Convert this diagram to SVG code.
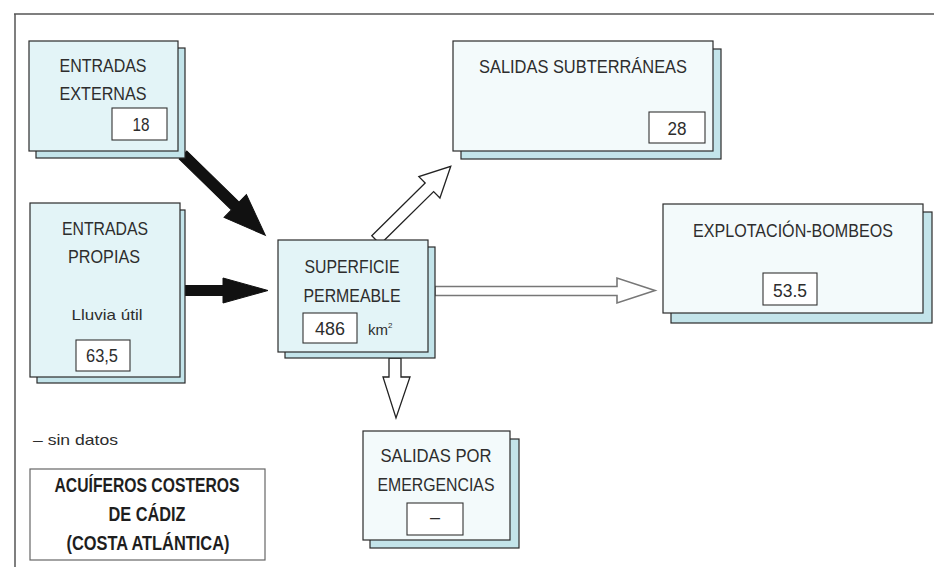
<svg xmlns="http://www.w3.org/2000/svg" width="934" height="567" viewBox="0 0 934 567">
<style>
.bg{fill:#ffffff}
.frame{stroke:#555;stroke-width:1.5;fill:none}
.shadow{fill:#c3e4ea;stroke:#2b2b2b;stroke-width:1.2}
.boxA{fill:#e3f4f7;stroke:#2b2b2b;stroke-width:1.2}
.boxB{fill:#f3fafb;stroke:#2b2b2b;stroke-width:1.2}
.val{fill:#ffffff;stroke:#333;stroke-width:1.1}
text{font-family:"Liberation Sans",Arial,sans-serif;fill:#2d2d2d;text-anchor:middle}
.t{font-size:18px}
.s{font-size:15px}
.n{font-size:18px}
.leg{font-size:20px;font-weight:bold;fill:#1e1e1e}
.solid{fill:#111;stroke:#111;stroke-width:1}
.hollow{fill:#fff;stroke:#222;stroke-width:1.3;stroke-linejoin:miter}
.hollowg{fill:#fff;stroke:#777;stroke-width:1.6}
</style>
<rect class="bg" x="0" y="0" width="934" height="567"/>
<path class="frame" d="M14,14 H934 M15,14 V567"/>

<g id="connectors">
  <polygon class="solid" transform="translate(183,155) rotate(44.3)" points="0,-5.5 73,-5.5 73,-16 115,0 73,16 73,5.5 0,5.5"/>
  <polygon class="solid" points="185,285.5 223,285.5 223,278 268,290.5 223,303 223,295.5 185,295.5"/>
  <polygon class="hollow" transform="translate(376,240) rotate(-44.6)" points="0,-6 75,-6 75,-15 105,0 75,15 75,6 0,6"/>
  <polygon class="hollowg" points="435,286.5 617,286.5 617,278 655,290.5 617,303 617,295.5 435,295.5"/>
  <polygon class="hollow" points="389,358 389,377 383,377 396,418 410,377 401,377 401,358"/>
</g>

<g id="entradas-externas">
  <rect class="shadow" x="36" y="48" width="149" height="110"/>
  <rect class="boxA" x="29" y="41" width="149" height="110"/>
  <text class="t" x="103" y="72" textLength="87" lengthAdjust="spacingAndGlyphs">ENTRADAS</text>
  <text class="t" x="103" y="100" textLength="87" lengthAdjust="spacingAndGlyphs">EXTERNAS</text>
  <rect class="val" x="112" y="108" width="55" height="32"/>
  <text class="n" x="141" y="131" textLength="17" lengthAdjust="spacingAndGlyphs">18</text>
</g>

<g id="entradas-propias">
  <rect class="shadow" x="37" y="210" width="148" height="173"/>
  <rect class="boxA" x="30" y="203" width="150" height="174"/>
  <text class="t" x="105" y="235" textLength="86" lengthAdjust="spacingAndGlyphs">ENTRADAS</text>
  <text class="t" x="104" y="263" textLength="72" lengthAdjust="spacingAndGlyphs">PROPIAS</text>
  <text class="s" x="107" y="320" textLength="71" lengthAdjust="spacingAndGlyphs">Lluvia útil</text>
  <rect class="val" x="76" y="340" width="54" height="31"/>
  <text class="n" x="102" y="362" textLength="32" lengthAdjust="spacingAndGlyphs">63,5</text>
</g>

<g id="superficie-permeable">
  <rect class="shadow" x="285" y="247" width="150" height="111"/>
  <rect class="boxA" x="278" y="240" width="150" height="112"/>
  <text class="t" x="352" y="273" textLength="95" lengthAdjust="spacingAndGlyphs">SUPERFICIE</text>
  <text class="t" x="352" y="302" textLength="97" lengthAdjust="spacingAndGlyphs">PERMEABLE</text>
  <rect class="val" x="303" y="313" width="54" height="30"/>
  <text class="n" x="330" y="335" textLength="30" lengthAdjust="spacingAndGlyphs">486</text>
  <text class="s" x="368" y="335" style="text-anchor:start">km<tspan dy="-7" font-size="8">2</tspan></text>
</g>

<g id="salidas-subterraneas">
  <rect class="shadow" x="461" y="49" width="260" height="110"/>
  <rect class="boxB" x="453" y="41" width="260" height="110"/>
  <text class="t" x="583" y="73" textLength="208" lengthAdjust="spacingAndGlyphs">SALIDAS SUBTERRÁNEAS</text>
  <rect class="val" x="649" y="112" width="56" height="31"/>
  <text class="n" x="677" y="135" textLength="19" lengthAdjust="spacingAndGlyphs">28</text>
</g>

<g id="explotacion-bombeos">
  <rect class="shadow" x="671" y="212" width="261" height="111"/>
  <rect class="boxB" x="663" y="204" width="260" height="109"/>
  <text class="t" x="793" y="237" textLength="200" lengthAdjust="spacingAndGlyphs">EXPLOTACIÓN-BOMBEOS</text>
  <rect class="val" x="763" y="273" width="54" height="32"/>
  <text class="n" x="790" y="297" textLength="34" lengthAdjust="spacingAndGlyphs">53.5</text>
</g>

<g id="salidas-emergencias">
  <rect class="shadow" x="370" y="439" width="149" height="109"/>
  <rect class="boxB" x="363" y="431" width="147" height="109"/>
  <text class="t" x="436" y="462" textLength="111" lengthAdjust="spacingAndGlyphs">SALIDAS POR</text>
  <text class="t" x="436" y="491" textLength="117" lengthAdjust="spacingAndGlyphs">EMERGENCIAS</text>
  <rect class="val" x="407" y="503" width="56" height="32"/>
  <text class="n" x="435" y="523">–</text>
</g>

<g id="leyenda">
  <text class="s" x="33" y="445" style="text-anchor:start" textLength="85" lengthAdjust="spacingAndGlyphs">– sin datos</text>
</g>

<g id="titulo">
  <rect x="30" y="469" width="235" height="91" fill="#fff" stroke="#666" stroke-width="1.2"/>
  <text class="leg" x="147" y="492" textLength="185" lengthAdjust="spacingAndGlyphs">ACUÍFEROS COSTEROS</text>
  <text class="leg" x="147" y="521" textLength="77" lengthAdjust="spacingAndGlyphs">DE CÁDIZ</text>
  <text class="leg" x="148" y="550" textLength="163" lengthAdjust="spacingAndGlyphs">(COSTA ATLÁNTICA)</text>
</g>
</svg>
